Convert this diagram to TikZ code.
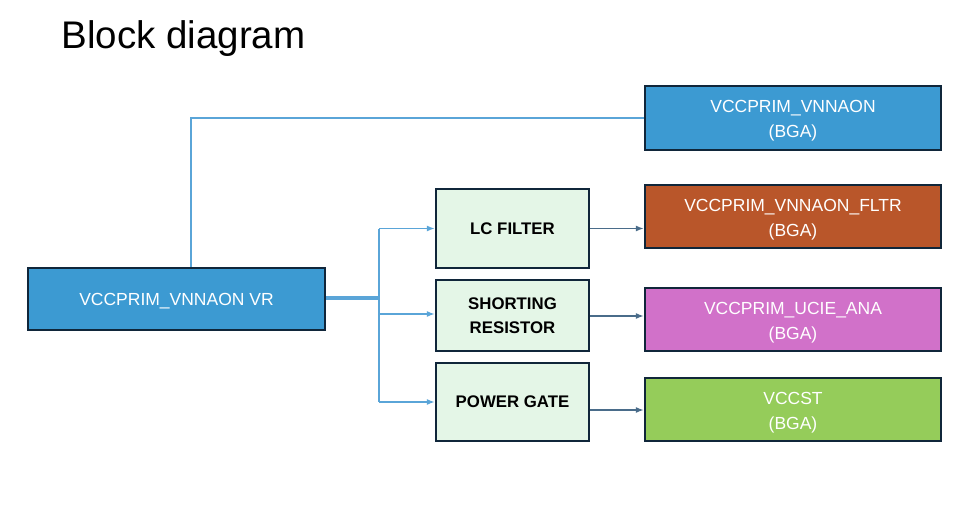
\documentclass[tikz,border=0pt]{standalone}
\usepackage{fontspec}
\setmainfont{Liberation Sans}
\usetikzlibrary{arrows.meta,positioning}
\definecolor{bluefill}{HTML}{3C9AD2}
\definecolor{bordercol}{HTML}{10263A}
\definecolor{fltrfill}{HTML}{B9562A}
\definecolor{uciefill}{HTML}{D171C9}
\definecolor{vccstfill}{HTML}{95CC5A}
\definecolor{midfill}{HTML}{E4F6E7}
\definecolor{linelight}{HTML}{5AA5D8}
\definecolor{linedark}{HTML}{4A6C8A}
\tikzset{
  colbox/.style={draw=bordercol, line width=2.2pt, text=white, align=center, font=\fontsize{17.5}{25}\selectfont, inner sep=0pt},
  twoline/.style={text height=43pt, text depth=4pt},
  midbox/.style={draw=bordercol, line width=2.2pt, fill=midfill, text=black, align=center, font=\fontsize{16.8}{24}\selectfont\bfseries, inner sep=0pt, minimum width=153pt},
  lightline/.style={draw=linelight, line width=1.8pt},
  lightarrow/.style={draw=linelight, line width=1.8pt, -{Latex[length=8pt,width=6pt]}},
  darkarrow/.style={draw=linedark, line width=1.8pt, -{Latex[length=8pt,width=6pt]}},
}
\begin{document}
\begin{tikzpicture}[x=1pt,y=-1pt]
\useasboundingbox (0,0) rectangle (967,525);
\node[anchor=west, font=\fontsize{38.5}{44}\selectfont] (title) at (58,39) {Block diagram};
% left VR
\node[colbox, fill=bluefill, minimum width=297pt, minimum height=62pt, text height=17pt, text depth=4pt] (vr) at (176.5,299) {VCCPRIM\_VNNAON VR};
% right boxes
\node[colbox, twoline, fill=bluefill, minimum width=296pt, minimum height=64pt] (bga1) at (793,118) {VCCPRIM\_VNNAON\\(BGA)};
\node[colbox, twoline, fill=fltrfill, minimum width=296pt, minimum height=63pt] (bga2) at (793,216.5) {VCCPRIM\_VNNAON\_FLTR\\(BGA)};
\node[colbox, twoline, fill=uciefill, minimum width=296pt, minimum height=63pt] (bga3) at (793,319.5) {VCCPRIM\_UCIE\_ANA\\(BGA)};
\node[colbox, twoline, fill=vccstfill, minimum width=296pt, minimum height=63pt] (bga4) at (793,409.5) {VCCST\\(BGA)};
% middle boxes
\node[midbox, minimum height=79pt] (lc) at (512.5,228.5) {LC FILTER};
\node[midbox, minimum height=71pt] (sr) at (512.5,315.5) {SHORTING\\RESISTOR};
\node[midbox, minimum height=78pt] (pg) at (512.5,402) {POWER GATE};
% connectors
\coordinate (split) at (379,298);
\draw[lightline] (vr.north -| 191,0) |- (bga1.west);
\draw[draw=linelight, line width=3.5pt] (vr.east |- split) -- (split);
\draw[lightline] (split |- lc.west) -- (split |- pg.west);
\draw[lightarrow] (split |- lc.west) -- (lc.west);
\draw[lightarrow] (split |- 0,314) -- (sr.west |- 0,314);
\draw[lightarrow] (split |- pg.west) -- (pg.west);
\draw[darkarrow] (lc.east) -- (bga2.west |- lc.east);
\draw[darkarrow] (sr.east |- 0,316) -- (bga3.west |- 0,316);
\draw[darkarrow] (pg.east |- 0,410) -- (bga4.west |- 0,410);
\end{tikzpicture}
\end{document}
